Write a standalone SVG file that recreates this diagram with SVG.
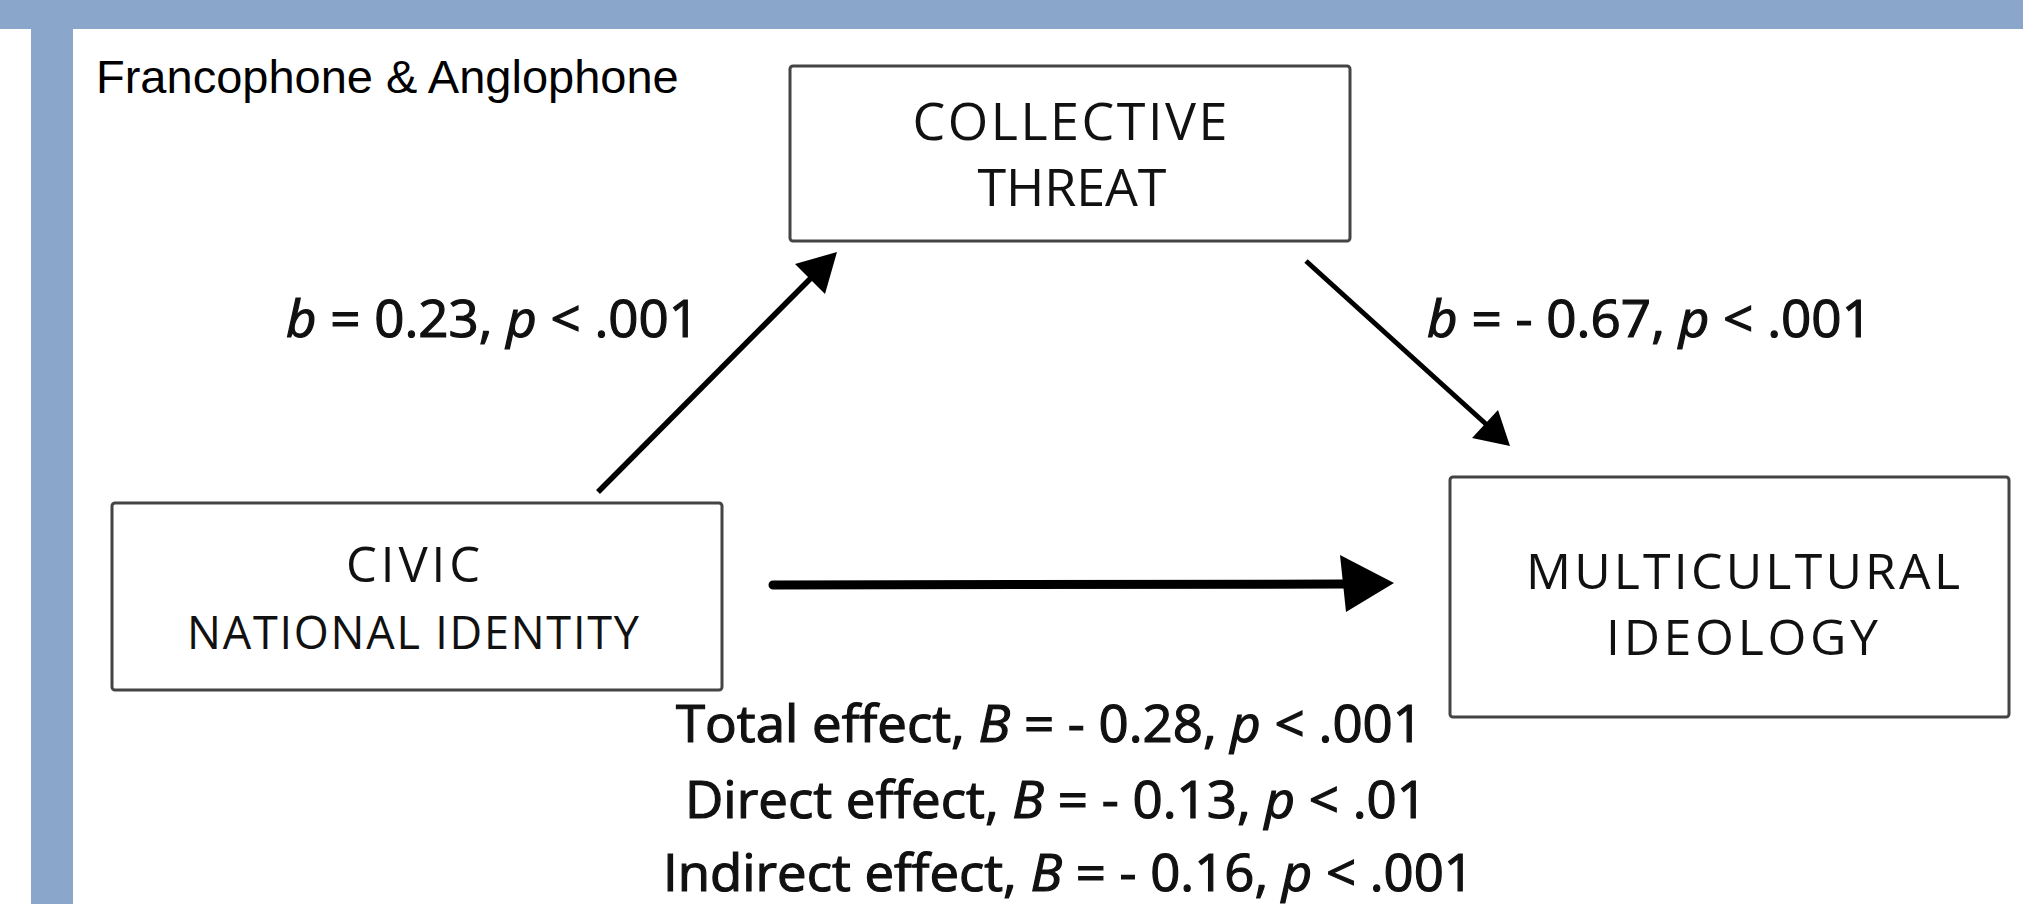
<svg xmlns="http://www.w3.org/2000/svg" width="2023" height="904" viewBox="0 0 2023 904">
  <style>
    .bg { fill: #8ba6cb; }
    .box { fill: #ffffff; stroke: #444444; stroke-width: 3; }
    .node { font-family: "Open Sans", "DejaVu Sans", sans-serif; fill: #111; text-anchor: middle; }
    .lbl { font-family: "Open Sans", "DejaVu Sans", sans-serif; font-size: 52px; fill: #111; stroke: #111; stroke-width: 1.2px; }
    .it { font-style: italic; }
    .title { font-family: "Liberation Sans", Arial, sans-serif; font-size: 47px; fill: #000; }
    .edge { stroke: #000; fill: none; }
    .head { fill: #000; stroke: none; }
  </style>
  <rect x="0" y="0" width="2023" height="904" fill="#ffffff"/>
  <rect class="bg" x="0" y="0" width="2023" height="29"/>
  <rect class="bg" x="31" y="28" width="42" height="876"/>

  <text class="title" x="96" y="93">Francophone &amp; Anglophone</text>

  <g id="node-collective-threat">
    <rect class="box" x="790" y="66" width="560" height="175" rx="3"/>
    <text class="node" x="1070" y="140" font-size="52" textLength="315" lengthAdjust="spacing">COLLECTIVE</text>
    <text class="node" x="1072" y="206" font-size="52" textLength="189" lengthAdjust="spacing">THREAT</text>
  </g>

  <g id="node-civic">
    <rect class="box" x="112" y="503" width="610" height="187" rx="3"/>
    <text class="node" x="413" y="582" font-size="49" textLength="134" lengthAdjust="spacing">CIVIC</text>
    <text class="node" x="413" y="649" font-size="45" textLength="452" lengthAdjust="spacing">NATIONAL IDENTITY</text>
  </g>

  <g id="node-multicultural">
    <rect class="box" x="1450" y="477" width="559" height="240" rx="3"/>
    <text class="node" x="1743" y="589" font-size="50" textLength="434" lengthAdjust="spacing">MULTICULTURAL</text>
    <text class="node" x="1742" y="655" font-size="50" textLength="272" lengthAdjust="spacing">IDEOLOGY</text>
  </g>

  <g id="connectors">
    <line class="edge" x1="598" y1="492" x2="812" y2="277" stroke-width="5.5"/>
    <polygon class="head" points="837,252 825,294 795,264"/>
    <line class="edge" x1="1306" y1="261" x2="1487" y2="425" stroke-width="5"/>
    <polygon class="head" points="1510,446 1472,438 1498,410"/>
    <line class="edge" x1="773" y1="585" x2="1345" y2="584" stroke-width="9" stroke-linecap="round"/>
    <polygon class="head" points="1340,555 1394,583 1346,612"/>
  </g>

  <g id="labels">
    <text class="lbl" x="286" y="337" textLength="413" lengthAdjust="spacingAndGlyphs"><tspan class="it">b</tspan> = 0.23, <tspan class="it">p</tspan> &lt; .001</text>
    <text class="lbl" x="1427" y="337" textLength="445" lengthAdjust="spacingAndGlyphs"><tspan class="it">b</tspan> = - 0.67, <tspan class="it">p</tspan> &lt; .001</text>
    <text class="lbl" x="676" y="742" textLength="747" lengthAdjust="spacingAndGlyphs">Total effect, <tspan class="it">B</tspan> = - 0.28, <tspan class="it">p</tspan> &lt; .001</text>
    <text class="lbl" x="685" y="818" textLength="742" lengthAdjust="spacingAndGlyphs">Direct effect, <tspan class="it">B</tspan> = - 0.13, <tspan class="it">p</tspan> &lt; .01</text>
    <text class="lbl" x="663" y="891" textLength="811" lengthAdjust="spacingAndGlyphs">Indirect effect, <tspan class="it">B</tspan> = - 0.16, <tspan class="it">p</tspan> &lt; .001</text>
  </g>
</svg>
